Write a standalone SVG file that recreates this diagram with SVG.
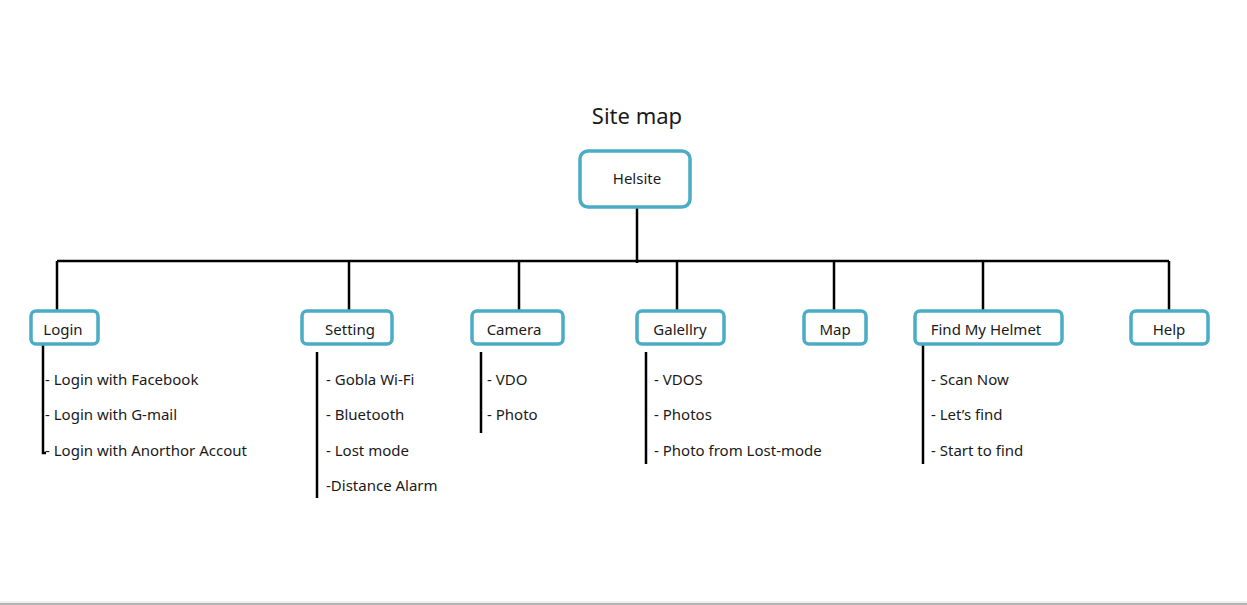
<svg xmlns="http://www.w3.org/2000/svg" width="1247" height="605" viewBox="0 0 1247 605">
<style>
.box{fill:#fff;stroke:#4BACC6;stroke-width:3.5}
.ln{stroke:#000;stroke-width:2.5;fill:none}
text{font-family:"Noto Sans","Open Sans",sans-serif;fill:#1a1a1a}
.lbl{font-size:15px;text-anchor:middle}
.it{font-size:15px}
</style>
<rect width="1247" height="605" fill="#fff"/>
<line x1="0" y1="602" x2="1247" y2="602" stroke="#ddd" stroke-width="1"/>
<line x1="0" y1="604" x2="1247" y2="604" stroke="#999" stroke-width="1.5"/>
<text x="637" y="124" font-size="22" text-anchor="middle">Site map</text>
<g id="connectors">
<path class="ln" d="M637 207V263M57 261H1169M57 261V311M349 261V311M519 261V311M677 261V311M834 261V311M983 261V311M1169 261V311"/>
<path class="ln" d="M43 344V453H46M317 352V498M481 352V433M646 352V464M923 344V464"/>
</g>
<g id="helsite"><rect class="box" x="580" y="151" width="110" height="56" rx="8"/><text class="lbl" x="637" y="184" font-size="14">Helsite</text></g>
<g id="login"><rect class="box" x="31" y="311" width="67" height="33" rx="5"/><text class="lbl" x="63" y="335">Login</text>
<text class="it" x="45" y="385">- Login with Facebook</text><text class="it" x="45" y="420">- Login with G-mail</text><text class="it" x="45" y="456">- Login with Anorthor Accout</text></g>
<g id="setting"><rect class="box" x="302" y="311" width="90" height="33" rx="5"/><text class="lbl" x="350" y="335">Setting</text>
<text class="it" x="326" y="385">- Gobla Wi-Fi</text><text class="it" x="326" y="420">- Bluetooth</text><text class="it" x="326" y="456">- Lost mode</text><text class="it" x="326" y="491">-Distance Alarm</text></g>
<g id="camera"><rect class="box" x="472" y="311" width="91" height="33" rx="5"/><text class="lbl" x="514" y="335">Camera</text>
<text class="it" x="487" y="385">- VDO</text><text class="it" x="487" y="420">- Photo</text></g>
<g id="galellry"><rect class="box" x="637" y="311" width="87" height="33" rx="5"/><text class="lbl" x="680" y="335">Galellry</text>
<text class="it" x="654" y="385">- VDOS</text><text class="it" x="654" y="420">- Photos</text><text class="it" x="654" y="456">- Photo from Lost-mode</text></g>
<g id="map"><rect class="box" x="804" y="311" width="62" height="33" rx="5"/><text class="lbl" x="835" y="335">Map</text></g>
<g id="findmyhelmet"><rect class="box" x="915" y="311" width="147" height="33" rx="5"/><text class="lbl" x="986" y="335">Find My Helmet</text>
<text class="it" x="931" y="385">- Scan Now</text><text class="it" x="931" y="420">- Let’s find</text><text class="it" x="931" y="456">- Start to find</text></g>
<g id="help"><rect class="box" x="1131" y="311" width="77" height="33" rx="5"/><text class="lbl" x="1169" y="335">Help</text></g>
</svg>
